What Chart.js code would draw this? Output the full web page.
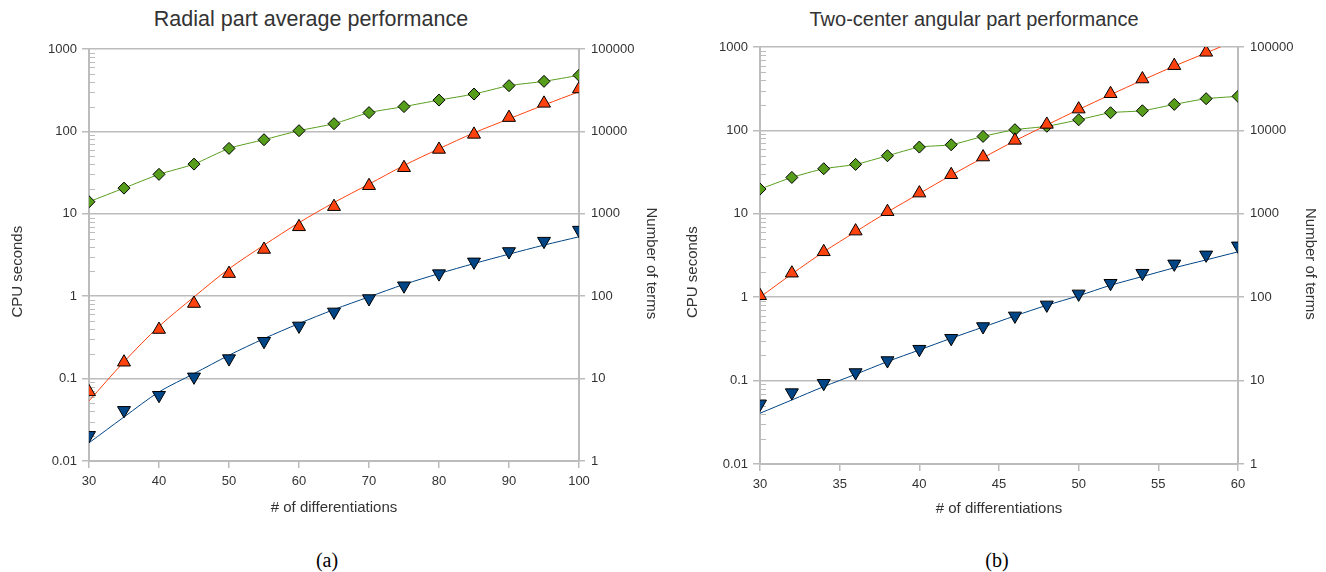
<!DOCTYPE html>
<html>
<head>
<meta charset="utf-8">
<script src="https://cdn.jsdelivr.net/npm/chart.js@4.4.1/dist/chart.umd.min.js"></script>
<style>
body { margin:0; background:#fff; width:1326px; height:572px; position:relative; overflow:hidden; font-family:"Liberation Sans", Arial, sans-serif; }
.box { position:absolute; top:0; width:663px; height:530px; }
.ttl { position:absolute; font-size:20px; line-height:24px; color:#333; white-space:nowrap; transform:translateX(-50%); }
.cap { position:absolute; font-family:"Liberation Serif", serif; font-size:20px; line-height:24px; color:#000; transform:translateX(-50%); }
</style>
</head>
<body>
<div class="ttl" style="left:311px;top:7px;font-size:21.5px">Radial part average performance</div>
<div class="ttl" style="left:974px;top:7px">Two-center angular part performance</div>
<div class="box" style="left:0"><canvas id="radial" width="663" height="530"></canvas></div>
<div class="box" style="left:663px"><canvas id="angular" width="663" height="530"></canvas></div>
<div class="cap" style="left:327px;top:548px">(a)</div>
<div class="cap" style="left:997px;top:548px">(b)</div>
<script>
// tick labels
var cpuTicks = [0.01, 0.1, 1, 10, 100, 1000];
var termTicks = [1, 10, 100, 1000, 10000, 100000];

// (a) radial part
var radialX = [30, 35, 40, 45, 50, 55, 60, 65, 70, 75, 80, 85, 90, 95, 100];
var radialTerms = [1400, 2050, 3010, 4010, 6220, 7930, 10200, 12400, 16900, 20000, 24000, 28400, 35900, 40500, 47900];
var radialRed = [0.069, 0.158, 0.394, 0.815, 1.88, 3.69, 6.95, 12.2, 21.9, 36.2, 60.4, 92, 147, 219, 327];
var radialBlue = [0.0205, 0.0412, 0.0628, 0.105, 0.175, 0.284, 0.436, 0.645, 0.937, 1.34, 1.88, 2.61, 3.49, 4.66, 6.34];
var radialRedFit = [0.0536, 0.16, 0.43, 0.98, 2.15, 4.17, 7.8, 13.7, 22.9, 38.6, 61.6, 96, 142, 209, 303];
var radialBlueFit = [0.0166, 0.0342, 0.0689, 0.115, 0.192, 0.306, 0.466, 0.689, 0.982, 1.39, 1.88, 2.49, 3.24, 4.17, 5.26];

// (b) two-center angular part
var angularX = [30, 32, 34, 36, 38, 40, 42, 44, 46, 48, 50, 52, 54, 56, 58, 60];
var angularTerms = [1980, 2730, 3470, 3910, 4970, 6310, 6730, 8470, 10200, 11200, 13400, 16300, 17200, 20500, 24000, 25600];
var angularRed = [1.04, 1.94, 3.5, 6.2, 10.6, 17.7, 29.4, 47.9, 75.9, 118, 180, 275, 413, 597, 863];
var angularBlue = [0.0525, 0.0718, 0.0929, 0.125, 0.174, 0.238, 0.322, 0.445, 0.597, 0.809, 1.096, 1.47, 1.94, 2.51, 3.22, 4.13];
var angularRedFit = [1.0, 1.9, 3.5, 6.1, 10.5, 17.5, 29, 47, 75, 116, 178, 268, 400, 590, 850, 1230];
var angularBlueFit = [0.0406, 0.0586, 0.0847, 0.119, 0.169, 0.233, 0.322, 0.438, 0.597, 0.8, 1.04, 1.39, 1.77, 2.25, 2.8, 3.5];

var GREEN = '#579d1c', RED = '#ff420e', BLUE = '#004586';
var GRID = '#bcbcbc', TXT = '#333';

function pts(xs, ys) {
  return ys.map(function (y, i) { return { x: xs[i], y: y }; });
}

// small ticks between decades, inside the plot on the left axis
var minorTicks = {
  id: 'minorTicks',
  beforeDatasetsDraw: function (chart) {
    var s = chart.scales.y, ctx = chart.ctx;
    ctx.save();
    ctx.strokeStyle = GRID;
    ctx.lineWidth = 1;
    for (var k = -2; k < 3; k++) {
      for (var m = 2; m < 10; m++) {
        var y = Math.round(s.getPixelForValue(m * Math.pow(10, k))) + 0.5;
        ctx.beginPath();
        ctx.moveTo(s.right, y);
        ctx.lineTo(s.right + 6, y);
        ctx.stroke();
      }
    }
    ctx.restore();
  }
};

function makeChart(id, g) {
  var font = { family: '"Liberation Sans", Arial, sans-serif', size: 13 };
  var tfont = { family: '"Liberation Sans", Arial, sans-serif', size: 15 };
  return new Chart(document.getElementById(id), {
    type: 'scatter',
    data: {
      datasets: [
        { data: pts(g.xs, g.redFit), yAxisID: 'y', showLine: true, borderColor: RED, borderWidth: 1, pointRadius: 0, tension: 0.3, order: 3 },
        { data: pts(g.xs, g.blueFit), yAxisID: 'y', showLine: true, borderColor: BLUE, borderWidth: 1, pointRadius: 0, tension: 0.3, order: 3 },
        { data: pts(g.xs, g.terms), yAxisID: 'y2', showLine: true, borderColor: GREEN, borderWidth: 1, tension: 0.2,
          pointStyle: 'rectRot', pointRadius: 6, pointBackgroundColor: GREEN, pointBorderColor: '#000', pointBorderWidth: 1, order: 2 },
        { data: pts(g.xs, g.red), yAxisID: 'y', pointStyle: 'triangle', pointRadius: 7.5,
          pointBackgroundColor: RED, pointBorderColor: '#000', pointBorderWidth: 1, order: 1 },
        { data: pts(g.xs, g.blue), yAxisID: 'y', pointStyle: 'triangle', rotation: 180, pointRadius: 7.5,
          pointBackgroundColor: BLUE, pointBorderColor: '#000', pointBorderWidth: 1, order: 1 }
      ]
    },
    options: {
      responsive: false,
      animation: false,
      events: [],
      layout: { padding: { top: g.top, left: 0, right: 0, bottom: 0 } },
      plugins: { legend: { display: false }, tooltip: { enabled: false }, title: { display: false } },
      scales: {
        x: {
          type: 'linear', min: g.xs[0], max: g.xs[g.xs.length - 1],
          afterFit: function (s) { s.height = g.bottomH; },
          ticks: { stepSize: g.step, color: TXT, font: font, padding: 6 },
          grid: { drawOnChartArea: false, color: GRID, lineWidth: 1.5, tickLength: 7 },
          border: { color: GRID, width: 2 },
          title: { display: true, text: '# of differentiations', color: TXT, font: tfont, padding: { top: 0, bottom: g.xtPad } }
        },
        y: {
          type: 'logarithmic', position: 'left', min: 0.01, max: 1000,
          afterBuildTicks: function (s) { s.ticks = cpuTicks.map(function (v) { return { value: v }; }); },
          afterFit: function (s) { s.width = g.leftW; },
          ticks: { callback: function (v) { return String(v); }, color: TXT, font: font, padding: 5 },
          grid: { color: GRID, lineWidth: 1.5, tickLength: 7 },
          border: { color: GRID, width: 2 },
          // trailing spaces nudge the rotated title a bit lower, like the original
          title: { display: true, text: 'CPU seconds        ', color: TXT, font: tfont, padding: { top: g.ltPad, bottom: 0 } }
        },
        y2: {
          type: 'logarithmic', position: 'right', min: 1, max: 100000,
          afterBuildTicks: function (s) { s.ticks = termTicks.map(function (v) { return { value: v }; }); },
          afterFit: function (s) { s.width = g.rightW; },
          ticks: { callback: function (v) { return String(v); }, color: TXT, font: font, padding: 6 },
          grid: { drawOnChartArea: false, color: GRID, lineWidth: 1.5, tickLength: 6 },
          border: { color: GRID, width: 2 },
          title: { display: true, text: '    Number of terms', color: TXT, font: tfont, padding: { top: g.rtPad, bottom: 0 } }
        }
      }
    },
    plugins: [minorTicks]
  });
}

makeChart('radial', {
  xs: radialX, terms: radialTerms, red: radialRed, blue: radialBlue,
  redFit: radialRedFit, blueFit: radialBlueFit,
  step: 10, top: 49, bottomH: 69, leftW: 89, rightW: 84, ltPad: 9, rtPad: 3, xtPad: 13
});

makeChart('angular', {
  xs: angularX, terms: angularTerms, red: angularRed, blue: angularBlue,
  redFit: angularRedFit, blueFit: angularBlueFit,
  step: 5, top: 47, bottomH: 66, leftW: 97, rightW: 88, ltPad: 21, rtPad: 7, xtPad: 12
});
</script>
</body>
</html>
